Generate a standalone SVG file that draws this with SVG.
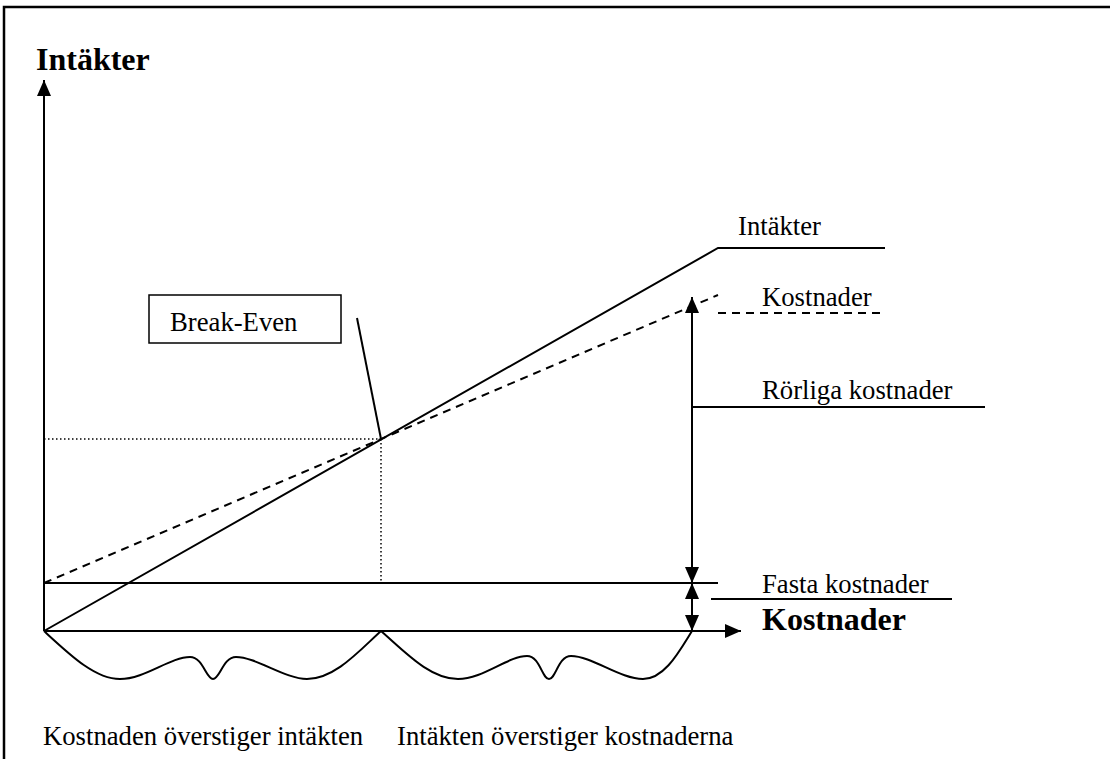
<svg xmlns="http://www.w3.org/2000/svg" width="1110" height="759" viewBox="0 0 1110 759">
<style>
.ln{stroke:#000;stroke-width:2;fill:none}
.dash{stroke:#000;stroke-width:2;fill:none;stroke-dasharray:8,6}
.dot{stroke:#000;stroke-width:1.5;fill:none;stroke-dasharray:1.5,2.5}
.t{font-family:"Liberation Serif","Times New Roman",serif;font-size:26.7px;fill:#000}
.tb{font-family:"Liberation Serif","Times New Roman",serif;font-size:32px;font-weight:bold;fill:#000}
</style>
<defs>
<marker id="ah" viewBox="0 0 16 14" refX="16" refY="7" markerWidth="16" markerHeight="14" markerUnits="userSpaceOnUse" orient="auto-start-reverse">
<path d="M0,0 L16,7 L0,14 Z" fill="#000"/>
</marker>
</defs>
<rect width="1110" height="759" fill="#fff"/>
<rect x="4" y="7" width="1200" height="800" fill="none" stroke="#000" stroke-width="2.5"/>

<g id="axes">
<line class="ln" x1="44" y1="631" x2="44" y2="80" marker-end="url(#ah)"/>
<line class="ln" x1="44" y1="631" x2="741" y2="631" marker-end="url(#ah)"/>
<text id="y-label" class="tb" x="36" y="70">Intäkter</text>
<text id="x-label" class="tb" x="762" y="630">Kostnader</text>
</g>

<g id="connectors">
<polyline id="revenue" class="ln" points="44,631 718,248 885,248"/>
<line id="costs" class="dash" x1="44" y1="583" x2="718" y2="295"/>
<line class="dash" x1="718" y1="313" x2="880" y2="313"/>
<line id="fixed" class="ln" x1="44" y1="583" x2="718" y2="583"/>
<line class="dot" x1="44" y1="439" x2="381" y2="439"/>
<line class="dot" x1="381" y1="439" x2="381" y2="583"/>
<line id="be-leader" class="ln" x1="357" y1="318" x2="381" y2="439"/>
<line id="var-arrow" class="ln" x1="692" y1="583" x2="692" y2="297" marker-start="url(#ah)" marker-end="url(#ah)"/>
<line id="fix-arrow" class="ln" x1="692" y1="631" x2="692" y2="583" marker-start="url(#ah)" marker-end="url(#ah)"/>
<line class="ln" x1="692" y1="407" x2="985" y2="407"/>
<line class="ln" x1="711" y1="599" x2="952" y2="599"/>
<path id="wave1" class="ln" d="M44,631 C70,655 95,679 120,679 C145,679 170,657 190,657 C203,657 206,679 213,679 C220,679 223,657 236,657 C256,657 285,679 307,679 C335,679 360,650 381,631"/>
<path id="wave2" class="ln" d="M381,631 C405,652 430,679 458,679 C483,679 508,656 527,656 C540,656 542,679 549,679 C556,679 558,656 571,656 C592,656 620,679 643,679 C665,679 680,650 692,631"/>
</g>

<g id="break-even">
<rect x="149" y="295" width="192" height="48" fill="#fff" stroke="#000" stroke-width="1.5"/>
<text class="t" x="170" y="331">Break-Even</text>
</g>

<g id="labels">
<text id="lbl-revenue" class="t" x="738" y="235">Intäkter</text>
<text id="lbl-costs" class="t" x="762" y="306">Kostnader</text>
<text id="lbl-variable" class="t" x="762" y="399">Rörliga kostnader</text>
<text id="lbl-fixed" class="t" x="762" y="593">Fasta kostnader</text>
<text id="lbl-loss" class="t" x="43" y="745">Kostnaden överstiger intäkten</text>
<text id="lbl-profit" class="t" x="397" y="745">Intäkten överstiger kostnaderna</text>
</g>
</svg>
